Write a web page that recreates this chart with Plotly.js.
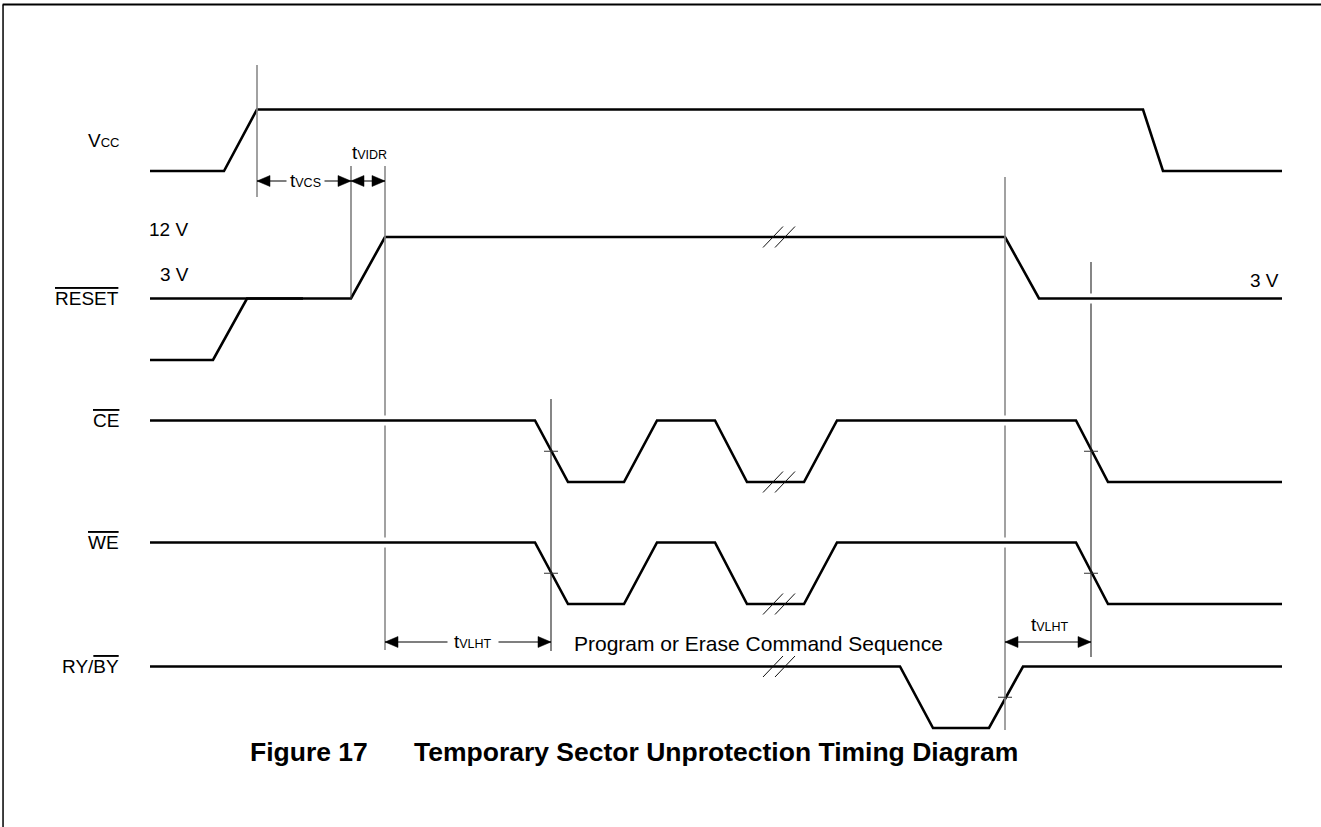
<!DOCTYPE html>
<html><head><meta charset="utf-8">
<script src="https://cdn.plot.ly/plotly-3.0.1.min.js"></script>
<style>html,body{margin:0;padding:0;background:#fff}#chart{width:1321px;height:827px}</style>
</head><body><div id="chart"></div>
<script>
// ---------------- data (time axis in diagram units, logical levels) ----------------
const vccTimes       = [150, 224, 257, 1143, 1163, 1282];
const vccLevels      = [0, 0, 1, 1, 0, 0];
const resetTimes     = [150, 351, 385, 1005, 1039, 1282];
const resetLevels    = [1, 1, 2, 2, 1, 1];          // 0 = low, 1 = 3 V, 2 = 12 V
const resetLowTimes  = [150, 213, 247, 303];
const resetLowLevels = [0, 0, 1, 1];
const ceTimes        = [150, 535, 568, 624, 657, 715, 747, 804, 837, 1076, 1108, 1282];
const ceLevels       = [1, 1, 0, 0, 1, 1, 0, 0, 1, 1, 0, 0];
const weTimes        = [150, 535, 568, 624, 657, 715, 747, 804, 837, 1076, 1108, 1282];
const weLevels       = [1, 1, 0, 0, 1, 1, 0, 0, 1, 1, 0, 0];
const rybyTimes      = [150, 900, 933, 989, 1023, 1282];
const rybyLevels     = [1, 1, 0, 0, 1, 1];

const signalLabels = ['V<span style="font-size:13px">CC</span>',
                      '<span style="text-decoration:overline">RESET</span>',
                      '<span style="text-decoration:overline">CE</span>',
                      '<span style="text-decoration:overline">WE</span>',
                      'RY/<span style="text-decoration:overline">BY</span>'];
const voltLabels   = ['12 V', '3 V', '3 V'];
const breakTimes   = [773, 785];
const refTimes     = [257, 351, 385, 551, 1005, 1091];   // timing reference instants
const arrowFrom    = [257, 351, 385, 1005];
const arrowTo      = [351, 385, 551, 1091];
const arrowLabels  = ['t<span style="font-size:12.5px">VCS</span>',
                      't<span style="font-size:12.5px">VIDR</span>',
                      't<span style="font-size:12.5px">VLHT</span>',
                      't<span style="font-size:12.5px">VLHT</span>'];
const sequenceText = 'Program or Erase Command Sequence';
const figureNumber = 'Figure 17';
const figureTitle  = 'Temporary Sector Unprotection Timing Diagram';

// ---------------- layout geometry (axis units) ----------------
const rows = { vcc:171, reset:360, ce:482, we:604, ryby:728 };
const swing = 61.5;
const Y = (row, lvl) => rows[row] - lvl * swing;
const FONT = 'Liberation Sans, Arial, Helvetica, sans-serif';

const traces = [];
function wave(times, levels, row) {
  traces.push({ x: times, y: levels.map(l => Y(row, l)), mode: 'lines', type: 'scatter',
    line: { color: '#000', width: 2.6 }, hoverinfo: 'skip' });
}
wave(vccTimes, vccLevels, 'vcc');
wave(resetTimes, resetLevels, 'reset');
wave(resetLowTimes, resetLowLevels, 'reset');
wave(ceTimes, ceLevels, 'ce');
wave(weTimes, weLevels, 'we');
wave(rybyTimes, rybyLevels, 'ryby');

// vertical reference lines: [time index, top, bottom, colour, width, gaps(row,level)]
const refSpec = [
  [0, 65, 197, '#8a8a8a', 1.6, []],
  [1, 166, Y('reset', 1), '#444', 1.1, []],
  [2, 166, 650, '#8a8a8a', 1.6, [['ce', 1], ['we', 1]]],
  [3, 399, 651, '#222', 1.1, []],
  [4, 177, 730, '#8a8a8a', 1.6, [['ce', 1], ['we', 1]]],
  [5, 262, 657, '#222', 1.1, [['reset', 1]]],
];
refSpec.forEach(([i, top, bot, col, w, gaps]) => {
  const t = refTimes[i];
  const xs = [t], ys = [top];
  gaps.map(([r, l]) => Y(r, l)).sort((a, b) => a - b).forEach(g => {
    xs.push(t, null, t); ys.push(g - 5, null, g + 5);
  });
  xs.push(t); ys.push(bot);
  traces.push({ x: xs, y: ys, mode: 'lines', line: { color: col, width: w }, hoverinfo: 'skip' });
});

// crossing ticks on edges (time index, row)
const tickSpec = [[3, 'ce'], [3, 'we'], [5, 'ce'], [5, 'we'], [4, 'ryby']];
const tx = [], ty = [];
tickSpec.forEach(([i, r]) => {
  const t = refTimes[i], y = Y(r, 0.5);
  tx.push(t - 7, t + 7, null); ty.push(y, y, null);
});
traces.push({ x: tx, y: ty, mode: 'lines', line: { color: '#333', width: 1 }, hoverinfo: 'skip' });

// break marks "//"
const brkRows = [['reset', 2], ['ce', 0], ['we', 0], ['ryby', 1]];
const bx = [], by = [];
brkRows.forEach(([r, l]) => {
  const y = Y(r, l);
  breakTimes.forEach(t => { bx.push(t - 10, t + 10, null); by.push(y + 10.5, y - 10.5, null); });
});
traces.push({ x: bx, y: by, mode: 'lines', line: { color: '#111', width: 1 }, hoverinfo: 'skip' });

// dimension arrows
const arrowY = [181, 181, 642, 642];
const lx = [], ly = [], hx = [], hy = [];
const HL = 13, HH = 5.5;
arrowFrom.forEach((a, i) => {
  const b = arrowTo[i], y = arrowY[i];
  lx.push(a, b, null); ly.push(y, y, null);
  hx.push(a, a + HL, a + HL, a, null); hy.push(y, y - HH, y + HH, y, null);
  hx.push(b, b - HL, b - HL, b, null); hy.push(y, y - HH, y + HH, y, null);
});
traces.push({ x: lx, y: ly, mode: 'lines', line: { color: '#000', width: 1.2 }, hoverinfo: 'skip' });
traces.push({ x: hx, y: hy, mode: 'lines', fill: 'toself', fillcolor: '#000',
  line: { color: '#000', width: 0.5 }, hoverinfo: 'skip' });

// ---------------- annotations ----------------
const ann = [];
function txt(text, x, y, size, xa, opts = {}) {
  ann.push(Object.assign({ text, x, y, xref: 'x', yref: 'y', showarrow: false, xanchor: xa,
    yanchor: 'middle', font: { family: FONT, size, color: '#000' } }, opts));
}
const labelRows = [[140, 0], [Y('reset', 1), 1], [Y('ce', 1), 2], [Y('we', 1), 3], [Y('ryby', 1), 4]];
labelRows.forEach(([y, i]) => txt(signalLabels[i], 121, y, 19, 'right'));
txt(voltLabels[0], 168, 229.5, 19, 'center');
txt(voltLabels[1], 174, 274.5, 19, 'center');
txt(voltLabels[2], 1264, 280.5, 19, 'center');
txt(arrowLabels[0], 305, 180, 19, 'center', { bgcolor: '#fff', borderpad: 3 });
txt(arrowLabels[1], 369, 152, 19, 'center');
txt(arrowLabels[2], 473, 641, 19, 'center', { bgcolor: '#fff', borderpad: 6 });
txt(arrowLabels[3], 1050, 624, 19, 'center');
txt(sequenceText, 758, 643, 21, 'center');
txt('<b>' + figureNumber + '</b>', 248, 752, 26.5, 'left');
txt('<b>' + figureTitle + '</b>', 412, 752, 26.5, 'left');

const layout = {
  width: 1321, height: 827,
  margin: { l: 0, r: 0, t: 0, b: 0 },
  paper_bgcolor: '#fff', plot_bgcolor: '#fff',
  showlegend: false, hovermode: false,
  xaxis: { range: [0, 1321], visible: false, fixedrange: true },
  yaxis: { range: [827, 0], visible: false, fixedrange: true },
  annotations: ann,
  shapes: [
    { type: 'line', xref: 'paper', yref: 'paper', x0: 0.002, x1: 1, y0: 0.9945, y1: 0.9945, line: { color: '#000', width: 2 } },
    { type: 'line', xref: 'paper', yref: 'paper', x0: 0.0023, x1: 0.0023, y0: 0, y1: 0.9945, line: { color: '#000', width: 1.5 } },
  ],
};
Plotly.newPlot('chart', traces, layout, { staticPlot: true, displayModeBar: false });
</script></body></html>
